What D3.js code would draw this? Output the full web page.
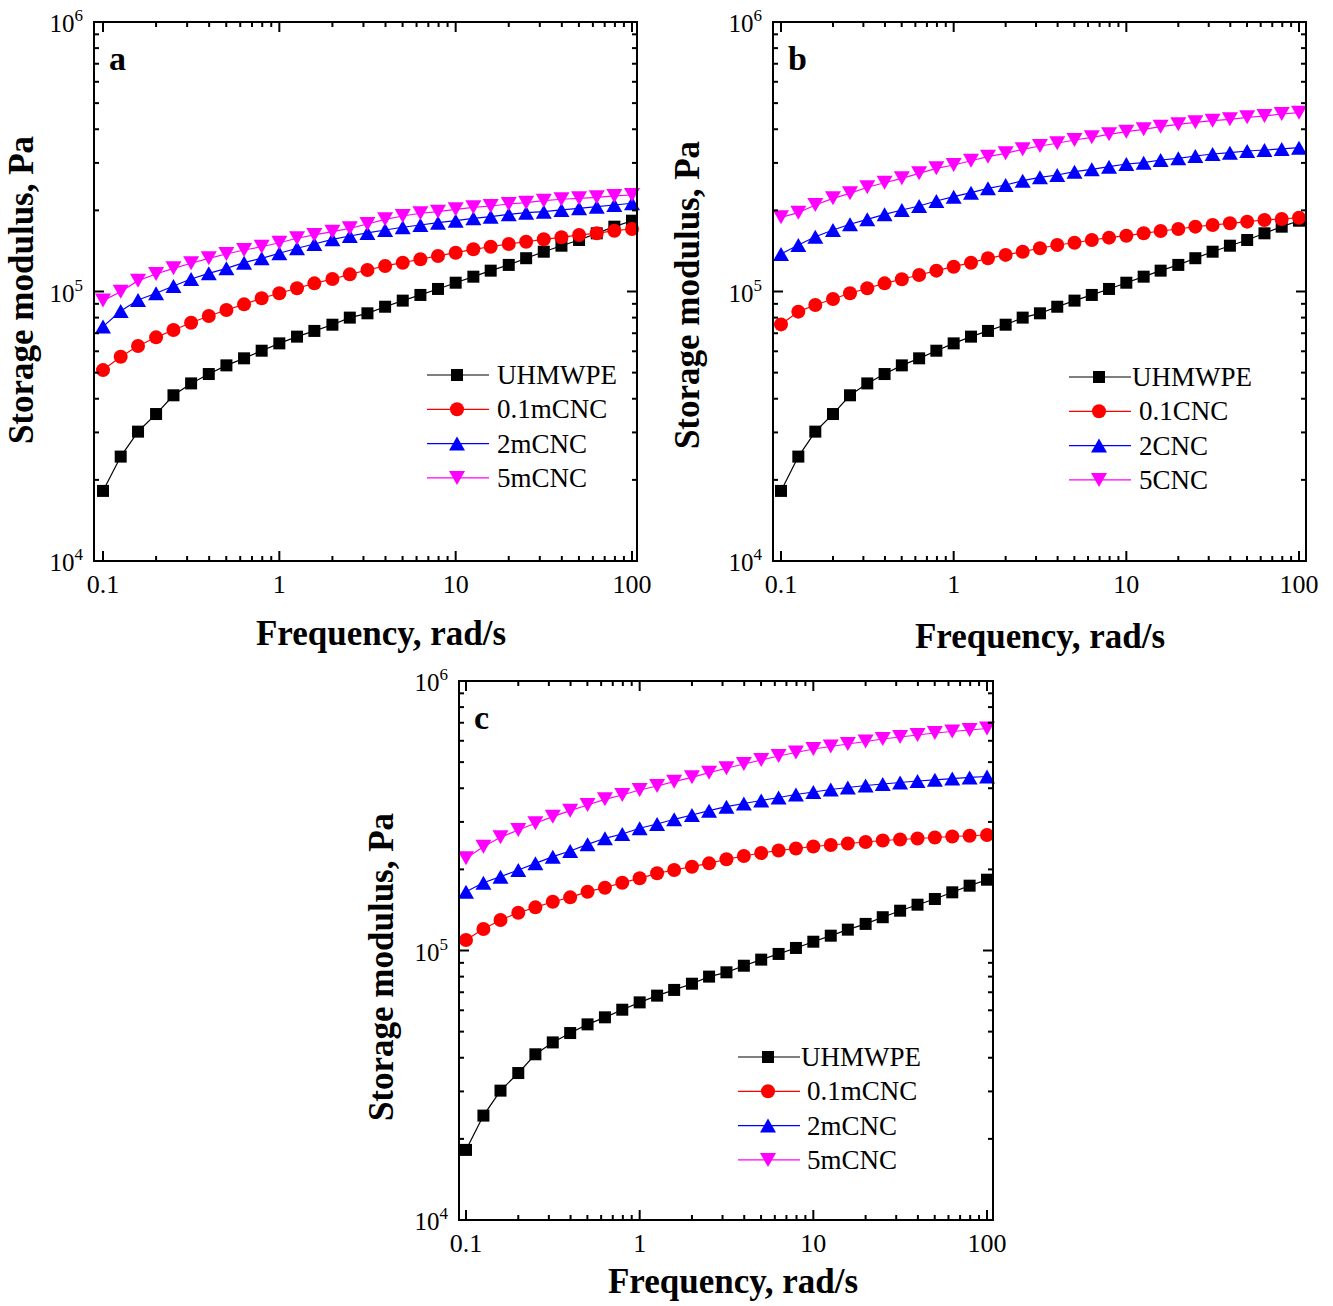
<!DOCTYPE html>
<html>
<head>
<meta charset="utf-8">
<script src="https://cdn.jsdelivr.net/npm/d3@7"></script>
<style>
  body { margin: 0; background: #fff; }
  svg text { font-family: "Liberation Serif", "Times New Roman", serif; }
</style>
</head>
<body>
<svg id="chart" width="1333" height="1306"></svg>
<script>
// angular frequency, rad/s
const freq = [0.1, 0.126, 0.158, 0.2, 0.251, 0.316, 0.398, 0.501, 0.631, 0.794,
  1, 1.26, 1.58, 2, 2.51, 3.16, 3.98, 5.01, 6.31, 7.94,
  10, 12.6, 15.8, 20, 25.1, 31.6, 39.8, 50.1, 63.1, 79.4, 100];

// storage modulus G', Pa  (neat UHMWPE is the same curve in all three panels)
const uhmwpe = [18200, 24400, 30200, 35100, 41200, 45600, 49400, 53200, 56500, 60300,
  64200, 68000, 71400, 75300, 80000, 83000, 87800, 92500, 97100, 102200,
  107800, 113500, 119500, 125500, 132900, 140500, 147900, 155300, 164400, 174000, 183100];

// panel a
const a01 = [51100, 57300, 62800, 67600, 72000, 76600, 81100, 85400, 89600, 94400,
  98500, 102800, 107200, 111300, 115800, 120200, 124400, 127900, 131700, 135500,
  139300, 143400, 146600, 150100, 153000, 156200, 158900, 162100, 164400, 168100, 170600];
const a2 = [74100, 84700, 93000, 98500, 104800, 111300, 116800, 121900, 127900, 132800,
  138600, 144700, 150100, 156200, 160700, 164900, 169100, 173100, 176500, 180000,
  183100, 186900, 189500, 193400, 196100, 197800, 200700, 203600, 206400, 209400, 212500];
const a5 = [92500, 99800, 109700, 116100, 121900, 127300, 132800, 137800, 142600, 146600,
  151700, 157600, 162100, 166700, 171600, 178000, 185300, 190600, 195100, 197800,
  201800, 205300, 207600, 211200, 213600, 217200, 219900, 221700, 223600, 226200, 228100];

// panel b
const b01 = [75500, 84200, 89100, 93800, 98500, 102800, 107200, 111000, 115100, 119500,
  123600, 127900, 132800, 136700, 140500, 144700, 148800, 151700, 155300, 158400,
  161100, 164400, 167700, 170600, 174000, 176500, 179100, 181600, 184200, 185800, 187900];
const b2 = [137800, 148800, 159700, 169100, 177600, 185300, 193400, 200700, 207600, 216700,
  224800, 232600, 241500, 248400, 257700, 265300, 270600, 278300, 284100, 290500,
  297300, 300600, 307600, 312100, 318300, 323800, 327400, 332200, 335000, 338000, 341700];
const b5 = [188500, 196100, 209400, 221700, 231400, 243600, 253300, 263000, 274500, 286500,
  294700, 305700, 316400, 325700, 337000, 346700, 354800, 364900, 373400, 383100,
  391700, 399800, 408800, 417300, 424400, 430300, 435500, 443000, 447900, 455600, 460800];

// panel c
const c01 = [109400, 120200, 129800, 138100, 144600, 151700, 157500, 165300, 171000, 178500,
  185300, 193400, 198900, 204600, 210600, 218000, 224200, 230000, 235000, 239000,
  243200, 246300, 249500, 252700, 256000, 258200, 260400, 262600, 264900, 266500, 268300];
const c2 = [165300, 178500, 187900, 198900, 210600, 222900, 234000, 247700, 260800, 270600,
  284100, 294700, 306800, 318300, 330200, 341700, 351200, 360300, 369600, 379200,
  387400, 395800, 402600, 409500, 414800, 420200, 425600, 430000, 434400, 438600, 442300];
const c5 = [219900, 242800, 263000, 280000, 296500, 313700, 330200, 346700, 363900, 377600,
  394000, 407700, 423000, 439200, 456800, 474500, 492000, 509200, 526900, 543000,
  559500, 571500, 583800, 596400, 609300, 619800, 630500, 641400, 649600, 658000, 666400];

const namesM = ["UHMWPE", "0.1mCNC", "2mCNC", "5mCNC"];
const namesB = ["UHMWPE", "0.1CNC", "2CNC", "5CNC"];

const xMajor = [0.1, 1, 10, 100];
const xLabels = ["0.1", "1", "10", "100"];
const yMajor = [1e4, 1e5, 1e6];
const yExp = ["4", "5", "6"];

const colors = ["#000000", "#ff0000", "#0000ff", "#ff00ff"];
const shapes = ["square", "circle", "up", "down"];

const panels = [
  { letter: "a", series: [uhmwpe, a01, a2, a5], names: namesM,
    left: 94, right: 637, top: 22, bottom: 561, x01: 103, x100: 632,
    legX: 427, legY: 375, legText: [497, 497], xTitle: [381, 645], yTitle: [22, 290] },
  { letter: "b", series: [uhmwpe, b01, b2, b5], names: namesB,
    left: 773, right: 1306, top: 22, bottom: 561, x01: 781, x100: 1299,
    legX: 1069, legY: 377, legText: [1132, 1139], xTitle: [1040, 648], yTitle: [688, 295] },
  { letter: "c", series: [uhmwpe, c01, c2, c5], names: namesM,
    left: 459, right: 993, top: 681, bottom: 1220, x01: 466, x100: 987,
    legX: 738, legY: 1057, legText: [801, 807], xTitle: [733, 1293], yTitle: [382, 967] }
];

const svg = d3.select("#chart");

function marker(g, shape, x, y, color) {
  if (shape === "square") {
    g.append("rect").attr("x", x - 6).attr("y", y - 6)
      .attr("width", 12).attr("height", 12).attr("fill", color);
  } else if (shape === "circle") {
    g.append("circle").attr("cx", x).attr("cy", y).attr("r", 7).attr("fill", color);
  } else if (shape === "up") {
    g.append("path").attr("d", `M${x},${y - 7}L${x + 8},${y + 7}L${x - 8},${y + 7}Z`)
      .attr("fill", color);
  } else {
    g.append("path").attr("d", `M${x},${y + 7}L${x + 8},${y - 7}L${x - 8},${y - 7}Z`)
      .attr("fill", color);
  }
}

function drawPanel(p) {
  const x = d3.scaleLog().domain([0.1, 100]).range([p.x01, p.x100]);
  const y = d3.scaleLog().domain([1e4, 1e6]).range([p.bottom, p.top]);
  const g = svg.append("g");

  // data
  p.series.forEach((vals, i) => {
    const pts = freq.map((f, j) => [x(f), y(vals[j])]);
    g.append("path")
      .attr("d", d3.line()(pts))
      .attr("fill", "none")
      .attr("stroke", colors[i])
      .attr("stroke-width", 1.2);
    const mg = g.append("g");
    pts.forEach(pt => marker(mg, shapes[i], pt[0], pt[1], colors[i]));
  });

  // frame
  g.append("rect")
    .attr("x", p.left).attr("y", p.top)
    .attr("width", p.right - p.left).attr("height", p.bottom - p.top)
    .attr("fill", "none").attr("stroke", "#000").attr("stroke-width", 2);

  // ticks, inward on every side
  const ticks = g.append("g").attr("stroke", "#000").attr("stroke-width", 2);
  const xTicks = [];
  xMajor.forEach(v => xTicks.push([v, 10]));
  [0.1, 1, 10].forEach(d => { for (let k = 2; k <= 9; k++) xTicks.push([d * k, 5]); });
  xTicks.forEach(([v, len]) => {
    const px = x(v);
    ticks.append("line").attr("x1", px).attr("x2", px).attr("y1", p.bottom).attr("y2", p.bottom - len);
    ticks.append("line").attr("x1", px).attr("x2", px).attr("y1", p.top).attr("y2", p.top + len);
  });
  const yTicks = [];
  yMajor.forEach(v => yTicks.push([v, 10]));
  [1e4, 1e5].forEach(d => { for (let k = 2; k <= 9; k++) yTicks.push([d * k, 5]); });
  yTicks.forEach(([v, len]) => {
    const py = y(v);
    ticks.append("line").attr("y1", py).attr("y2", py).attr("x1", p.left).attr("x2", p.left + len);
    ticks.append("line").attr("y1", py).attr("y2", py).attr("x1", p.right).attr("x2", p.right - len);
  });

  // tick labels
  xMajor.forEach((v, i) => {
    g.append("text").attr("x", x(v)).attr("y", p.bottom + 32)
      .attr("text-anchor", "middle").attr("font-size", 26).text(xLabels[i]);
  });
  yMajor.forEach((v, i) => {
    const t = g.append("text").attr("x", p.left - 11).attr("y", y(v) + 10)
      .attr("text-anchor", "end").attr("font-size", 25);
    t.append("tspan").text("10");
    t.append("tspan").attr("dy", -11).attr("font-size", 17).text(yExp[i]);
  });

  // axis titles
  g.append("text").attr("x", p.xTitle[0]).attr("y", p.xTitle[1])
    .attr("text-anchor", "middle").attr("font-size", 35).attr("font-weight", "bold")
    .text("Frequency, rad/s");
  g.append("text")
    .attr("transform", `translate(${p.yTitle[0] + 11},${p.yTitle[1]}) rotate(-90)`)
    .attr("text-anchor", "middle").attr("font-size", 35).attr("font-weight", "bold")
    .text("Storage modulus, Pa");

  // panel letter
  g.append("text").attr("x", p.left + 15).attr("y", p.top + 48)
    .attr("font-size", 34).attr("font-weight", "bold").text(p.letter);

  // legend
  p.names.forEach((name, i) => {
    const ly = p.legY + i * 34.3;
    g.append("line").attr("x1", p.legX).attr("x2", p.legX + 62)
      .attr("y1", ly).attr("y2", ly)
      .attr("stroke", colors[i]).attr("stroke-width", 1.2);
    marker(g, shapes[i], p.legX + 30, ly, colors[i]);
    g.append("text").attr("x", i === 0 ? p.legText[0] : p.legText[1]).attr("y", ly + 9)
      .attr("font-size", 27).text(name);
  });
}

panels.forEach(drawPanel);
</script>
</body>
</html>
